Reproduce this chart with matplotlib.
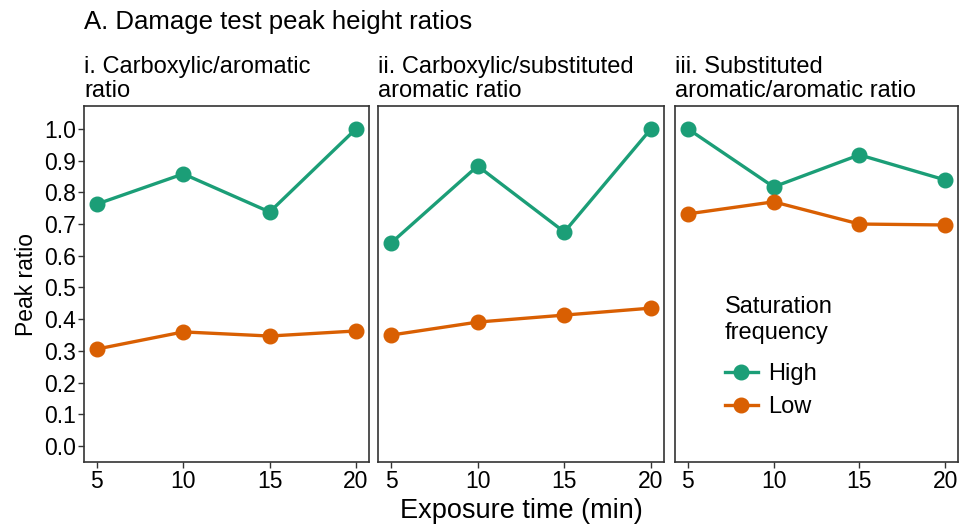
import matplotlib
matplotlib.use("Agg")
import matplotlib.pyplot as plt
from matplotlib.lines import Line2D

plt.rcParams['font.family'] = ['Liberation Sans', 'DejaVu Sans']

exposure = [5, 10, 15, 20]
panel_titles = ["i. Carboxylic/aromatic\nratio",
                "ii. Carboxylic/substituted\naromatic ratio",
                "iii. Substituted\naromatic/aromatic ratio"]
high = [[0.763, 0.858, 0.738, 1.0],
        [0.640, 0.883, 0.675, 1.0],
        [1.0, 0.817, 0.918, 0.839]]
low = [[0.306, 0.360, 0.347, 0.363],
       [0.350, 0.391, 0.413, 0.435],
       [0.732, 0.770, 0.700, 0.697]]
y_ticks = [0.0, 0.1, 0.2, 0.3, 0.4, 0.5, 0.6, 0.7, 0.8, 0.9, 1.0]
x_ticks = [5, 10, 15, 20]

col_high = "#1B9E77"
col_low = "#D95F02"

fig = plt.figure(figsize=(9.62, 5.25), dpi=100)
lefts = [84, 378, 675]
rights = [369, 664, 958]
W, H = 962, 525
bottom, top = 462, 106

axes = []
for i in range(3):
    ax = fig.add_axes([lefts[i] / W, 1 - bottom / H,
                       (rights[i] - lefts[i]) / W, (bottom - top) / H])
    axes.append(ax)
    ax.plot(exposure, high[i], color=col_high, lw=2.4, marker='o', ms=10.5,
            label="High")
    ax.plot(exposure, low[i], color=col_low, lw=2.4, marker='o', ms=10.5,
            label="Low")
    ax.set_xlim(4.25, 20.75)
    ax.set_ylim(-0.05, 1.072)
    ax.set_xticks(x_ticks)
    ax.set_yticks(y_ticks)
    ax.tick_params(labelsize=16.5, length=4, width=1, colors='#333333',
                   labelcolor='black', pad=2)
    for s in ax.spines.values():
        s.set_color('#333333')
        s.set_linewidth(1.2)
    if i == 0:
        ax.set_yticklabels([f"{v:.1f}" for v in y_ticks])
        ax.set_ylabel("Peak ratio", fontsize=16.5, labelpad=4)
    else:
        ax.tick_params(axis='y', left=False, labelleft=False)
    ax.text(0.0, 1.012, panel_titles[i], transform=ax.transAxes,
            fontsize=17, ha='left', va='bottom', linespacing=1.1)

fig.text(84 / W, 1 - 22 / H, "A. Damage test peak height ratios",
         fontsize=18.5, ha='left', va='center')
fig.text(521 / W, 1 - 511 / H, "Exposure time (min)",
         fontsize=19.5, ha='center', va='center')

handles = [Line2D([], [], color=col_high, lw=2.4, marker='o', ms=10.5),
           Line2D([], [], color=col_low, lw=2.4, marker='o', ms=10.5)]
leg = axes[2].legend(handles, ["High", "Low"], title="Saturation\nfrequency",
                     loc='upper left', bbox_to_anchor=(0.1, 0.525),
                     frameon=False, fontsize=17, title_fontsize=17,
                     handlelength=1.4, handletextpad=0.45, labelspacing=0.45)
leg._legend_box.align = "left"
leg._legend_box.sep = 14

fig.savefig("out.png", dpi=100)
